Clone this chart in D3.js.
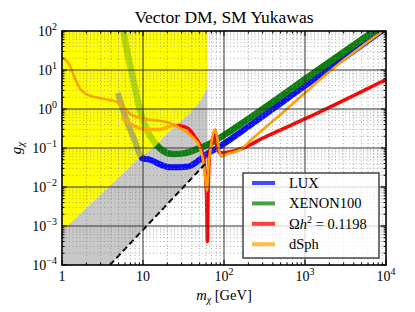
<!DOCTYPE html>
<html>
<head>
<meta charset="utf-8">
<script src="https://cdnjs.cloudflare.com/ajax/libs/d3/7.8.5/d3.min.js"></script>
<style>
  body { margin: 0; background: #fff; }
  svg { display: block; }
  text { font-family: "Liberation Serif", "DejaVu Serif", serif; fill: #000; }
</style>
</head>
<body>
<div id="chart"></div>
<script>
// curves as [m_chi (GeV), g_chi]
const luxCurve = [[4.9, 2.6], [6.3, 0.49], [7.95, 0.15], [9.7, 0.055], [12.2, 0.05], [16.2, 0.038], [21.5, 0.032], [35, 0.033], [50, 0.05], [63, 0.072], [89, 0.11], [158, 0.25], [278, 0.58], [1860, 10], [10000, 120]];
const xenonCurve = [[5.6, 130], [6.5, 24], [7.5, 6.2], [9.2, 0.94], [11.2, 0.29], [14, 0.135], [17, 0.09], [23.5, 0.07], [33, 0.074], [50, 0.1], [67, 0.13], [119, 0.27], [158, 0.4], [1450, 10], [10000, 165]];
const relicCurve = [[5.5, 0.59], [7.5, 0.38], [11, 0.3], [16, 0.3], [25, 0.39], [35, 0.33], [44, 0.19], [53, 0.09], [58, 0.03], [61, 0.005], [62.3, 0.0004], [63.5, 0.005], [66, 0.06], [72, 0.17], [77, 0.22], [82, 0.11], [88, 0.075], [120, 0.08], [172, 0.1], [303, 0.18], [1060, 0.59], [10000, 5.7]];
const dsphCurve = [[1, 20], [1.15, 17], [1.25, 13], [1.45, 6], [1.67, 3.3], [2.0, 2.4], [2.6, 2.0], [3.6, 1.75], [4.8, 1.5], [5.6, 1.1], [6.9, 0.75], [8.5, 0.62], [12, 0.53], [16, 0.5], [21.5, 0.44], [31, 0.29], [41, 0.19], [50, 0.107], [56, 0.04], [60, 0.012], [62, 0.008], [64, 0.03], [67, 0.07], [72, 0.2], [78, 0.3], [82, 0.2], [87, 0.09], [93, 0.06], [110, 0.07], [158, 0.09], [229, 0.18], [490, 0.7], [1060, 2.9], [2040, 9.4], [10000, 115]];
// excluded regions
const yellowEdge = [[62.5, 100], [62.5, 4.1], [58, 2.7], [50.6, 1.6], [38, 0.79], [26.3, 0.41], [19, 0.22], [14, 0.107], [9.2, 0.059], [1, 0.00075]];
const dashedLine = [[3.9, 0.0001], [62.5, 0.045]];

const xTicks = [1, 10, 100, 1000, 10000];
const xTickLabels = [["1", ""], ["10", ""], ["10", "2"], ["10", "3"], ["10", "4"]];
const yTicks = [100, 10, 1, 0.1, 0.01, 0.001, 0.0001];
const yTickLabels = [["10", "2"], ["10", "1"], ["10", "0"], ["10", "\u22121"], ["10", "\u22122"], ["10", "\u22123"], ["10", "\u22124"]];

const legendNames = ["LUX", "XENON100", "relic", "dSph"];
const colors = { LUX: "#0a0aff", XENON100: "#0a800a", relic: "#ff0000", dSph: "#ffa500" };

const drawChart = (element) => {
  const svgWidth = 415, svgHeight = 312;
  const margin = { top: 31, right: 29, bottom: 47, left: 62 };
  const w = svgWidth - margin.left - margin.right;
  const h = svgHeight - margin.top - margin.bottom;

  const x = d3.scaleLog().domain([1, 1e4]).range([0, w]);
  const y = d3.scaleLog().domain([1e-4, 1e2]).range([h, 0]);
  const line = d3.line().x(d => x(d[0])).y(d => y(d[1]));
  const smooth = d3.line().x(d => x(d[0])).y(d => y(d[1])).curve(d3.curveMonotoneX);

  const svg = d3.select(element).append("svg")
    .attr("width", svgWidth).attr("height", svgHeight);
  svg.append("defs").append("clipPath").attr("id", "clip")
    .append("rect").attr("width", w).attr("height", h);

  const g = svg.append("g").attr("transform", `translate(${margin.left},${margin.top})`);
  const plot = g.append("g").attr("clip-path", "url(#clip)");

  // gray region
  const grayPts = yellowEdge.slice(1).concat([[1, 1e-4]], dashedLine);
  plot.append("path").attr("d", line(grayPts) + "Z").attr("fill", "#c8c8c8");
  // yellow region
  const yellowPts = [[1, 100]].concat(yellowEdge);
  plot.append("path").attr("d", line(yellowPts) + "Z").attr("fill", "#ffff00");

  const curves = [
    { key: "LUX", data: luxCurve, width: 6 },
    { key: "XENON100", data: xenonCurve, width: 6.5 },
    { key: "relic", data: relicCurve, width: 3.5 }
  ];
  curves.forEach(c => {
    plot.append("path").attr("d", smooth(c.data)).attr("fill", "none")
      .attr("stroke", colors[c.key]).attr("stroke-width", c.width)
      .attr("stroke-linejoin", "round");
  });
  // yellow overlay dims lines inside
  plot.append("path").attr("d", line(yellowPts) + "Z").attr("fill", "#ffff00").attr("opacity", 0.7);

  plot.append("path").attr("d", smooth(dsphCurve)).attr("fill", "none")
    .attr("stroke", colors.dSph).attr("stroke-width", 2.6).attr("stroke-linejoin", "round");

  plot.append("path").attr("d", line(dashedLine)).attr("fill", "none")
    .attr("stroke", "#000").attr("stroke-width", 2).attr("stroke-dasharray", "6,3.5");

  // grid
  const minorX = [], minorY = [];
  for (let e = 0; e < 4; e++) for (let k = 2; k < 10; k++) minorX.push(k * Math.pow(10, e));
  for (let e = -4; e < 2; e++) for (let k = 2; k < 10; k++) minorY.push(k * Math.pow(10, e));
  const grid = g.append("g");
  grid.selectAll(".mx").data(minorX).enter().append("line")
    .attr("x1", d => x(d)).attr("x2", d => x(d)).attr("y1", 0).attr("y2", h)
    .attr("stroke", "#888").attr("stroke-width", 0.7).attr("stroke-dasharray", "1,2.5");
  grid.selectAll(".my").data(minorY).enter().append("line")
    .attr("y1", d => y(d)).attr("y2", d => y(d)).attr("x1", 0).attr("x2", w)
    .attr("stroke", "#888").attr("stroke-width", 0.7).attr("stroke-dasharray", "1,2.5");
  grid.selectAll(".Mx").data(xTicks.slice(1, -1)).enter().append("line")
    .attr("x1", d => x(d)).attr("x2", d => x(d)).attr("y1", 0).attr("y2", h)
    .attr("stroke", "#333").attr("stroke-width", 1);
  grid.selectAll(".My").data(yTicks.slice(1, -1)).enter().append("line")
    .attr("y1", d => y(d)).attr("y2", d => y(d)).attr("x1", 0).attr("x2", w)
    .attr("stroke", "#333").attr("stroke-width", 1);

  // ticks on all sides, inward
  const ticks = g.append("g").attr("stroke", "#000").attr("stroke-width", 1);
  xTicks.forEach(d => {
    ticks.append("line").attr("x1", x(d)).attr("x2", x(d)).attr("y1", h).attr("y2", h - 5);
    ticks.append("line").attr("x1", x(d)).attr("x2", x(d)).attr("y1", 0).attr("y2", 5);
  });
  minorX.forEach(d => {
    ticks.append("line").attr("x1", x(d)).attr("x2", x(d)).attr("y1", h).attr("y2", h - 2.5);
    ticks.append("line").attr("x1", x(d)).attr("x2", x(d)).attr("y1", 0).attr("y2", 2.5);
  });
  yTicks.forEach(d => {
    ticks.append("line").attr("y1", y(d)).attr("y2", y(d)).attr("x1", 0).attr("x2", 5);
    ticks.append("line").attr("y1", y(d)).attr("y2", y(d)).attr("x1", w).attr("x2", w - 5);
  });
  minorY.forEach(d => {
    ticks.append("line").attr("y1", y(d)).attr("y2", y(d)).attr("x1", 0).attr("x2", 2.5);
    ticks.append("line").attr("y1", y(d)).attr("y2", y(d)).attr("x1", w).attr("x2", w - 2.5);
  });

  g.append("rect").attr("width", w).attr("height", h).attr("fill", "none")
    .attr("stroke", "#000").attr("stroke-width", 1.6);

  // tick labels
  xTicks.forEach((d, i) => {
    const t = g.append("text").attr("x", x(d)).attr("y", h + 16).attr("text-anchor", "middle")
      .style("font-size", "14px").text(xTickLabels[i][0]);
    if (xTickLabels[i][1]) t.append("tspan").attr("dy", -6).style("font-size", "10px").text(xTickLabels[i][1]);
  });
  yTicks.forEach((d, i) => {
    const t = g.append("text").attr("x", -5).attr("y", y(d) + 4.5).attr("text-anchor", "end")
      .style("font-size", "14px").text(yTickLabels[i][0]);
    t.append("tspan").attr("dy", -6).style("font-size", "10px").text(yTickLabels[i][1]);
  });

  // title and axis labels
  svg.append("text").attr("x", margin.left + w / 2).attr("y", 23).attr("text-anchor", "middle")
    .style("font-size", "17.5px").text("Vector DM, SM Yukawas");

  const xl = svg.append("text").attr("x", margin.left + w / 2).attr("y", 300).attr("text-anchor", "middle")
    .style("font-size", "14.5px");
  xl.append("tspan").style("font-style", "italic").text("m");
  xl.append("tspan").attr("dy", 3).style("font-size", "10px").style("font-style", "italic").text("\u03c7");
  xl.append("tspan").attr("dy", -3).text(" [GeV]");

  const yl = svg.append("text").attr("transform", `translate(21,${margin.top + h / 2}) rotate(-90)`)
    .attr("text-anchor", "middle").style("font-size", "15px");
  yl.append("tspan").style("font-style", "italic").text("g");
  yl.append("tspan").attr("dy", 3).style("font-size", "11px").style("font-style", "italic").text("\u03c7");

  // legend
  const lg = svg.append("g").attr("transform", "translate(243,173)");
  lg.append("rect").attr("width", 136).attr("height", 85).attr("fill", "#fff").attr("fill-opacity", 0.8)
    .attr("stroke", "#444").attr("stroke-width", 1.5);
  legendNames.forEach((k, i) => {
    const yy = 10 + i * 20.4;
    lg.append("line").attr("x1", 9).attr("x2", 32).attr("y1", yy).attr("y2", yy)
      .attr("stroke", colors[k]).attr("stroke-opacity", 0.75).attr("stroke-width", 4);
    const t = lg.append("text").attr("x", 46).attr("y", yy + 5).style("font-size", "14.5px");
    if (k === "relic") {
      t.append("tspan").text("\u03a9");
      t.append("tspan").style("font-style", "italic").text("h");
      t.append("tspan").attr("dy", -6).style("font-size", "10px").text("2");
      t.append("tspan").attr("dy", 6).text(" = 0.1198");
    } else {
      t.text(k);
    }
  });
};

drawChart(document.getElementById("chart"));
</script>
</body>
</html>
